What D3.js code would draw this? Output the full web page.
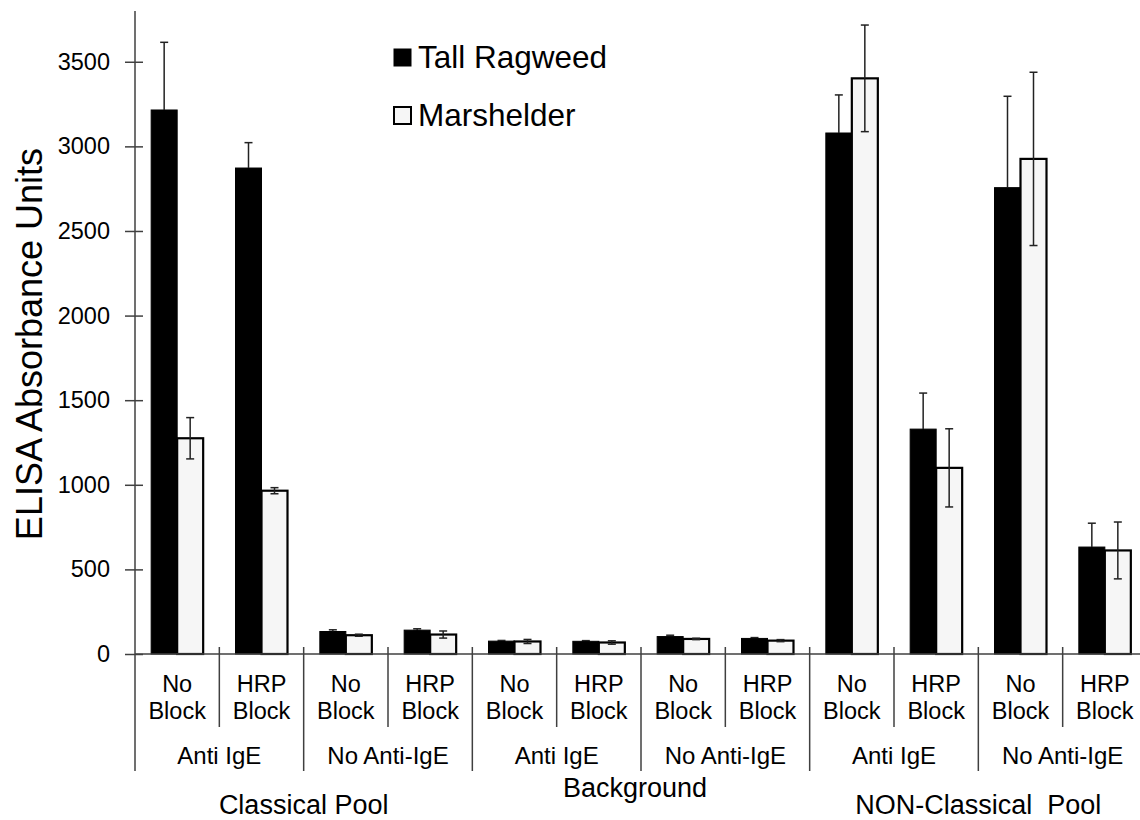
<!DOCTYPE html>
<html>
<head>
<meta charset="utf-8">
<script src="https://cdn.jsdelivr.net/npm/d3@7"></script>
<style>
html, body { margin: 0; padding: 0; background: #fff; }
svg { display: block; font-family: "Liberation Sans", Arial, sans-serif; }
text { white-space: pre; }
</style>
</head>
<body>
<svg id="chart" width="1140" height="820"></svg>
<script>
// ---- data ----
const pools = ["Classical Pool", "Background", "NON-Classical  Pool"];
const antibodies = ["Anti IgE", "No Anti-IgE"];
const blocks = [["No", "Block"], ["HRP", "Block"]];
const seriesNames = ["Tall Ragweed", "Marshelder"];
const tallRagweed    = [3215, 2872, 133, 141, 76, 75, 103, 92, 3079, 1329, 2756, 632];
const tallRagweedErr = [400, 150, 10, 8, 4, 4, 8, 5, 225, 213, 540, 141];
const marshelder     = [1275, 965, 111, 115, 74, 68, 89, 79, 3402, 1100, 2926, 612];
const marshelderErr  = [122, 18, 6, 21, 12, 10, 4, 6, 315, 231, 512, 168];
const yTicks = [0, 500, 1000, 1500, 2000, 2500, 3000, 3500];
const yTitle = "ELISA Absorbance Units";

// ---- layout ----
const svg = d3.select("#chart");
const x0 = 135, x1 = 1147, yTop = 11, yBase = 654;
const slots = d3.range(12);
const x = d3.scaleBand().domain(slots).range([x0, x1]).padding(0);
const y = d3.scaleLinear().domain([0, 3800]).range([yBase, yTop]);
const barW = 26;
const axisColor = "#404040";

// y axis
const yAxis = d3.axisLeft(y).tickValues(yTicks).tickSize(0).tickPadding(25).tickFormat(d3.format("d"));
const ga = svg.append("g").attr("transform", `translate(${x0},0)`).call(yAxis);
ga.select(".domain").remove();
ga.selectAll(".tick text").attr("font-size", 23.5).attr("fill", "#000").attr("font-family", "Liberation Sans, Arial, sans-serif");
ga.selectAll(".tick").append("line").attr("x1", -10).attr("x2", 8).attr("stroke", axisColor).attr("stroke-width", 1.5);
svg.append("line").attr("x1", x0).attr("x2", x0).attr("y1", yTop).attr("y2", 771).attr("stroke", axisColor).attr("stroke-width", 1.5);

// y title
svg.append("text").attr("transform", `translate(42,344) rotate(-90)`).attr("text-anchor", "middle")
  .attr("font-size", 36).attr("fill", "#000").text(yTitle);

// bars
const data = slots.map(i => ({ i, v: [tallRagweed[i], marshelder[i]], e: [tallRagweedErr[i], marshelderErr[i]] }));
const fills = ["#000000", "#f6f6f6"];
const g = svg.append("g");
data.forEach(d => {
  const cx = x(d.i) + x.bandwidth() / 2;
  [0, 1].forEach(s => {
    const bx = s === 0 ? cx - barW : cx;
    g.append("rect").attr("x", bx).attr("y", y(d.v[s])).attr("width", barW).attr("height", yBase - y(d.v[s]))
      .attr("fill", fills[s]).attr("stroke", "#000").attr("stroke-width", s === 0 ? 1 : 2.2);
  });
});
// error bars
data.forEach(d => {
  const cx = x(d.i) + x.bandwidth() / 2;
  [0, 1].forEach(s => {
    const ex = s === 0 ? cx - barW / 2 : cx + barW / 2;
    const top = y(d.v[s]);
    const hi = y(d.v[s] + d.e[s]), lo = y(d.v[s] - d.e[s]);
    const col = "#222";
    const loCol = s === 0 ? "#000" : col;
    g.append("line").attr("x1", ex).attr("x2", ex).attr("y1", hi).attr("y2", top).attr("stroke", col).attr("stroke-width", 1.5);
    g.append("line").attr("x1", ex).attr("x2", ex).attr("y1", top).attr("y2", lo).attr("stroke", loCol).attr("stroke-width", 1.5);
    g.append("line").attr("x1", ex - 4).attr("x2", ex + 4).attr("y1", hi).attr("y2", hi).attr("stroke", col).attr("stroke-width", 1.5);
    g.append("line").attr("x1", ex - 4).attr("x2", ex + 4).attr("y1", lo).attr("y2", lo).attr("stroke", loCol).attr("stroke-width", 1.5);
  });
});

// baseline
svg.append("line").attr("x1", x0).attr("x2", 1140).attr("y1", yBase).attr("y2", yBase).attr("stroke", axisColor).attr("stroke-width", 1.5);

// separators
slots.slice(1).forEach(i => {
  const sx = x(i);
  const long = i % 2 === 0;
  svg.append("line").attr("x1", sx).attr("x2", sx).attr("y1", 647).attr("y2", long ? 771 : 727)
    .attr("stroke", axisColor).attr("stroke-width", 1.5);
});

// category labels
const lab = svg.append("g").attr("text-anchor", "middle").attr("fill", "#000");
slots.forEach(i => {
  const cx = x(i) + x.bandwidth() / 2;
  const b = blocks[i % 2];
  lab.append("text").attr("x", cx).attr("y", 692).attr("font-size", 23.5).text(b[0]);
  lab.append("text").attr("x", cx).attr("y", 719).attr("font-size", 23.5).text(b[1]);
});
d3.range(6).forEach(k => {
  const cx = x(2 * k) + x.bandwidth();
  lab.append("text").attr("x", cx).attr("y", 764).attr("font-size", 24).text(antibodies[k % 2]);
});
const poolY = [814, 797, 814];
pools.forEach((p, k) => {
  const cx = x(4 * k) + 2 * x.bandwidth();
  lab.append("text").attr("x", cx - (k === 1 ? 6 : 0)).attr("y", poolY[k]).attr("font-size", 27).text(p);
});

// legend
const leg = svg.append("g");
const legY = [49, 107];
seriesNames.forEach((n, s) => {
  leg.append("rect").attr("x", 394).attr("y", legY[s]).attr("width", 17).attr("height", 17)
    .attr("fill", fills[s]).attr("stroke", "#000").attr("stroke-width", s === 0 ? 1 : 2);
  leg.append("text").attr("x", 418).attr("y", legY[s] + 19).attr("font-size", 31.5).attr("fill", "#000").text(n);
});
</script>
</body>
</html>
